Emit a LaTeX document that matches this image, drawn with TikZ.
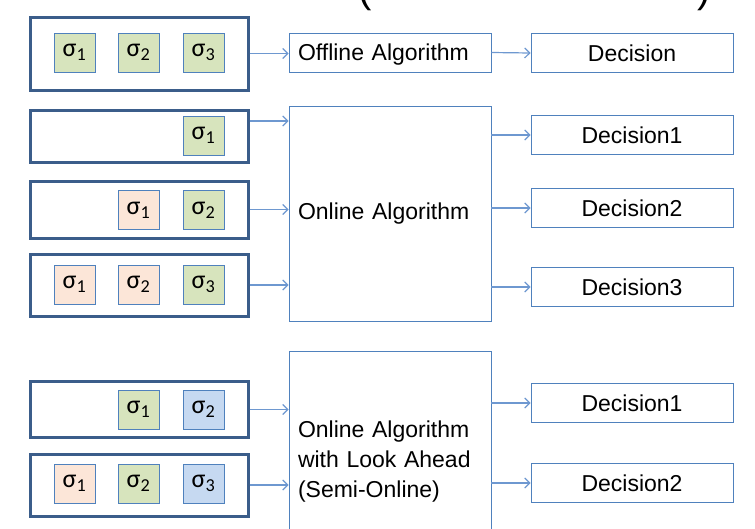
\documentclass[tikz,border=0pt]{standalone}
\usepackage{fontspec}
\setmainfont{Liberation Sans}
\newfontfamily\sigfont{Carlito}
\usetikzlibrary{arrows.meta}
\definecolor{frame}{RGB}{59,93,138}
\definecolor{edge}{RGB}{79,129,189}
\definecolor{link}{RGB}{110,152,208}
\definecolor{seqgreen}{RGB}{215,228,189}
\definecolor{seqpeach}{RGB}{252,230,216}
\definecolor{seqblue}{RGB}{198,217,241}
\newcommand{\sig}[1]{{\sigfont σ\textsubscript{#1}}}
\begin{document}
\begin{tikzpicture}
  [x=1pt,y=-1pt,
   inbox/.style={rectangle,draw=frame,line width=3pt,minimum width=218pt,inner sep=0pt},
   seq/.style={rectangle,draw=edge,line width=0.8pt,minimum width=41pt,minimum height=39pt,
     inner sep=0pt,font=\fontsize{26}{28}\selectfont},
   algo/.style={rectangle,draw=edge,line width=0.9pt,minimum width=202pt,text width=184pt,
     align=left,inner sep=9pt,font=\fontsize{23}{30}\selectfont},
   dec/.style={rectangle,draw=edge,line width=0.9pt,minimum width=202pt,minimum height=39pt,
     inner sep=0pt,font=\fontsize{23}{26}\selectfont},
   arr/.style={->,draw=link,line width=1.2pt},
   >={Straight Barb[length=5pt,width=10pt]}]
\useasboundingbox (0,0) rectangle (755,528); % keep the page size
\node at (365,2) (lp) [anchor=base,font=\fontsize{40}{40}\selectfont] {(};
\node at (704,2) (rp) [anchor=base,font=\fontsize{40}{40}\selectfont] {)};
% input sequences
\node at (139,53.5) (in1) [inbox, minimum height=73pt] {};
\node at (139,136) (in2) [inbox, minimum height=52pt] {};
\node at (139,209.5) (in3) [inbox, minimum height=57pt] {};
\node at (139,285) (in4) [inbox, minimum height=62pt] {};
\node at (139,409.5) (in5) [inbox, minimum height=56pt] {};
\node at (139,485) (in6) [inbox, minimum height=62pt] {};
%
\node at (74.5,52.5) (s11) [seq, fill=seqgreen] {\sig{1}};
\node at (138.5,52.5) (s12) [seq, fill=seqgreen] {\sig{2}};
\node at (203.5,52.5) (s13) [seq, fill=seqgreen] {\sig{3}};
\node at (203.5,135.5) (s21) [seq, fill=seqgreen] {\sig{1}};
\node at (138.5,210) (s31) [seq, fill=seqpeach] {\sig{1}};
\node at (203.5,210) (s32) [seq, fill=seqgreen] {\sig{2}};
\node at (74.5,284.5) (s41) [seq, fill=seqpeach] {\sig{1}};
\node at (138.5,284.5) (s42) [seq, fill=seqpeach] {\sig{2}};
\node at (203.5,284.5) (s43) [seq, fill=seqgreen] {\sig{3}};
\node at (138.5,409.5) (s51) [seq, fill=seqgreen] {\sig{1}};
\node at (203.5,409.5) (s52) [seq, fill=seqblue] {\sig{2}};
\node at (74.5,483.5) (s61) [seq, fill=seqpeach] {\sig{1}};
\node at (138.5,483.5) (s62) [seq, fill=seqgreen] {\sig{2}};
\node at (203.5,483.5) (s63) [seq, fill=seqblue] {\sig{3}};
% algorithms
\node at (390,52.5) (off) [algo, minimum height=39pt, inner sep=0pt, text width=184pt, text depth=0pt] {Offline Algorithm};
\node at (390,213.5) (on) [algo, minimum height=215pt] {Online Algorithm};
\node at (390,462) (look) [algo, minimum height=222pt] {Online Algorithm\\with Look Ahead\\(Semi-Online)};
% decisions
\node at (632,53) (d0) [dec] {Decision};
\node at (632,135) (d1) [dec] {Decision1};
\node at (632,208) (d2) [dec] {Decision2};
\node at (632,287) (d3) [dec] {Decision3};
\node at (632,403) (d4) [dec] {Decision1};
\node at (632,483) (d5) [dec] {Decision2};
%
\draw [arr] (in1.east) -- (in1.east -| off.west);
\draw [arr] ([yshift=15pt]in2.east) -- ([yshift=15pt]in2.east -| on.west);
\draw [arr] (in3.east) -- (in3.east -| on.west);
\draw [arr] (in4.east) -- (in4.east -| on.west);
\draw [arr] (in5.east) -- (in5.east -| look.west);
\draw [arr] (in6.east) -- (in6.east -| look.west);
%
\draw [arr] (off.east) -- (d0.west);
\draw [arr] (d1.west -| on.east) -- (d1.west);
\draw [arr] (d2.west -| on.east) -- (d2.west);
\draw [arr] (d3.west -| on.east) -- (d3.west);
\draw [arr] (d4.west -| look.east) -- (d4.west);
\draw [arr] (d5.west -| look.east) -- (d5.west);
\end{tikzpicture}
\end{document}
